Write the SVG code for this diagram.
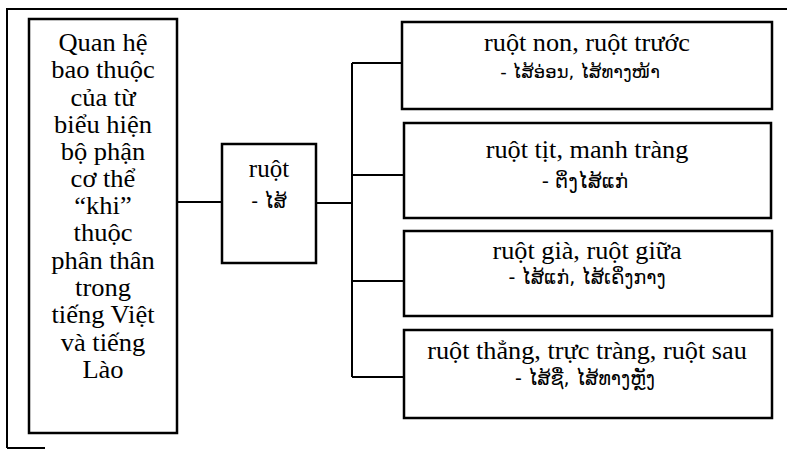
<svg xmlns="http://www.w3.org/2000/svg" width="787" height="450" viewBox="0 0 787 450">
  <style>
    .vi { font-family: "Liberation Serif", serif; font-size: 25px; fill: #000; text-anchor: middle; }
    .lo { font-family: "DejaVu Sans", sans-serif; fill: #000; text-anchor: middle; }
    .box { fill: #fff; stroke: #000; stroke-width: 2.5; }
    .wire { fill: none; stroke: #000; stroke-width: 2; }
    .frame { fill: none; stroke: #000; stroke-width: 2; }
  </style>
  <rect width="787" height="450" fill="#fff"/>

  <!-- surrounding page frame (runs off the edges) -->
  <path class="frame" d="M 7 448 V 9 H 790 M 7 448 H 45"/>

  <!-- connectors -->
  <g id="connectors">
    <path class="wire" d="M 177 202 H 222"/>
    <path class="wire" d="M 316 203 H 352"/>
    <path class="wire" d="M 352 63 V 377"/>
    <path class="wire" d="M 352 63 H 402"/>
    <path class="wire" d="M 352 175 H 404"/>
    <path class="wire" d="M 352 281 H 404"/>
    <path class="wire" d="M 352 377 H 404"/>
  </g>

  <g id="root">
    <rect class="box" x="29" y="19" width="148" height="414"/>
    <g transform="translate(103 0) scale(1.06 1) translate(-103 0)">
      <text class="vi" x="103" y="51">Quan hệ</text>
      <text class="vi" x="103" y="78">bao thuộc</text>
      <text class="vi" x="103" y="106">của từ</text>
      <text class="vi" x="103" y="133">biểu hiện</text>
      <text class="vi" x="103" y="160">bộ phận</text>
      <text class="vi" x="103" y="187">cơ thể</text>
      <text class="vi" x="103" y="214">“khi”</text>
      <text class="vi" x="103" y="241">thuộc</text>
      <text class="vi" x="103" y="269">phân thân</text>
      <text class="vi" x="103" y="296">trong</text>
      <text class="vi" x="103" y="323">tiếng Việt</text>
      <text class="vi" x="103" y="351">và tiếng</text>
      <text class="vi" x="103" y="378">Lào</text>
    </g>
  </g>

  <g id="ruot">
    <rect class="box" x="222" y="144" width="94" height="119"/>
    <text class="vi" x="269" y="177">ruột</text>
    <text class="lo" x="269" y="208" font-size="19">- ໄສ້</text>
  </g>

  <g id="ruot-non">
    <rect class="box" x="402" y="22" width="370" height="87"/>
    <text class="vi" x="587" y="51" transform="translate(587 0) scale(1.05 1) translate(-587 0)">ruột non, ruột trước</text>
    <text class="lo" x="580" y="78" font-size="18">- ໄສ້ອ່ອນ, ໄສ້ທາງໜ້າ</text>
  </g>

  <g id="ruot-tit">
    <rect class="box" x="404" y="123" width="367" height="95"/>
    <text class="vi" x="587" y="158" transform="translate(587 0) scale(1.05 1) translate(-587 0)">ruột tịt, manh tràng</text>
    <text class="lo" x="585" y="188" font-size="20">- ຕິ່ງໄສ້ແກ່</text>
  </g>

  <g id="ruot-gia">
    <rect class="box" x="404" y="231" width="368" height="85"/>
    <text class="vi" x="587" y="259" transform="translate(587 0) scale(1.05 1) translate(-587 0)">ruột già, ruột giữa</text>
    <text class="lo" x="587" y="284" font-size="19">- ໄສ້ແກ່, ໄສ້ເຄິ່ງກາງ</text>
  </g>

  <g id="ruot-thang">
    <rect class="box" x="404" y="330" width="368" height="88"/>
    <text class="vi" x="587" y="359" transform="translate(587 0) scale(1.05 1) translate(-587 0)">ruột thẳng, trực tràng, ruột sau</text>
    <text class="lo" x="585" y="385" font-size="19">- ໄສ້ຊື່, ໄສ້ທາງຫຼັງ</text>
  </g>
</svg>
